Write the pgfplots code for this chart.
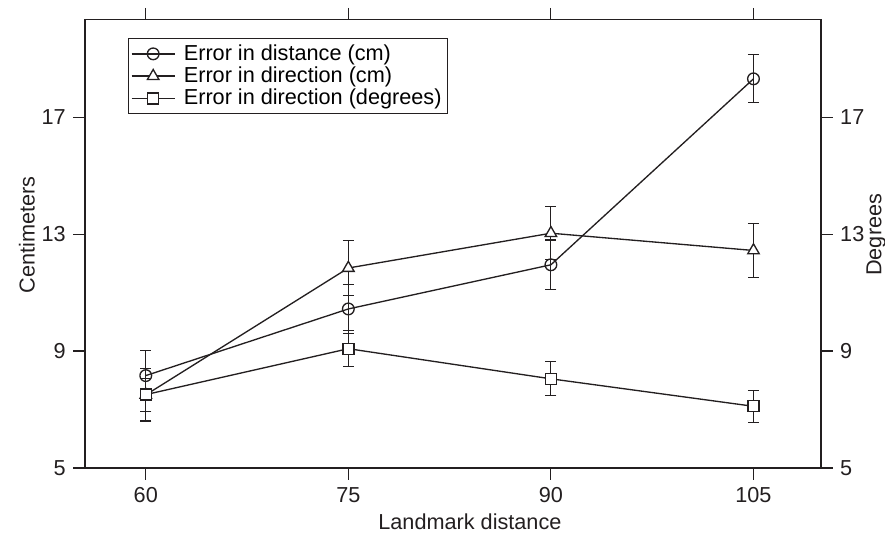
\documentclass[border=0pt]{standalone}
\usepackage{fontspec}
\setmainfont{Liberation Sans}
\usepackage{pgfplots}
\pgfplotsset{compat=1.18}
\definecolor{ink}{HTML}{231F20}
\pgfplotstableread{
x y e
60 8.16 0.86
75 10.44 0.84
90 11.95 0.85
105 18.31 0.82
}\distcm
\pgfplotstableread{
x y e
60 7.50 0.57
75 11.84 0.93
90 13.03 0.91
105 12.44 0.92
}\dircm
\pgfplotstableread{
x y e
60 7.51 0.90
75 9.08 0.61
90 8.05 0.58
105 7.11 0.55
}\dirdeg
\tikzset{
  ser/.style={ink,line width=0.8pt,mark options={fill=white,line width=0.8pt,solid}},
}
\begin{document}
\fontsize{13}{15}\selectfont
\begin{tikzpicture}
\path[use as bounding box] (-51pt,-42.6pt) rectangle (480pt,280.8pt);
\pgfplotsset{
  base/.style={
    at={(0,0)}, anchor=south west, scale only axis,
    width=441.6pt, height=269.1pt,
    xmin=55.5, xmax=110, ymin=5, ymax=20.34,
    ytick={5,9,13,17}, xtick={60,75,90,105},
    tick align=outside, major tick length=7pt,
    tick style={ink,line width=0.7pt},
    axis line style={ink,line width=0.8pt},
    tick label style={font=\fontsize{13}{15}\selectfont, text=ink},
    label style={font=\fontsize{13}{15}\selectfont, text=ink},
    /pgf/number format/assume math mode=true,
  },
}
\begin{axis}[base,
  xtick pos=both, ytick pos=left,
  xlabel={Landmark distance}, ylabel={Centimeters},
  xlabel style={at={(axis description cs:0.523,-0.12)},anchor=center},
  ylabel style={at={(axis description cs:-0.079,0.52)},anchor=center,rotate=0},
  legend style={at={(axis description cs:0.058,0.959)},anchor=north west,
    draw=ink,line width=0.8pt,font=\fontsize{13}{15}\selectfont,
    inner sep=1.5pt,row sep=-2pt,
    /tikz/every odd column/.append style={column sep=3pt}},
  legend cell align=left,
  legend image code/.code={\draw[mark repeat=2,mark phase=2,#1] plot coordinates {(0pt,0pt) (13pt,0pt) (26pt,0pt)};},
  error bars/error bar style={ink,line width=0.7pt},
  error bars/error mark options={rotate=90,mark size=3.3pt,line width=0.7pt,ink},
]
\addplot[ser,mark=o,mark size=3.5pt,error bars/.cd,y dir=both,y explicit]
  table[x=x,y=y,y error=e]{\distcm};
\addlegendentry{Error in distance (cm)}
\addplot[ser,mark=triangle*,mark size=4pt,error bars/.cd,y dir=both,y explicit]
  table[x=x,y=y,y error=e]{\dircm};
\addlegendentry{Error in direction (cm)}
\addplot[ser,mark=square*,mark size=3.3pt,error bars/.cd,y dir=both,y explicit]
  table[x=x,y=y,y error=e]{\dirdeg};
\addlegendentry{Error in direction (degrees)}
\end{axis}
\begin{axis}[base,
  axis x line=none, axis y line*=right, ytick pos=right,
  ylabel={Degrees},
  ylabel style={at={(axis description cs:1.075,0.52)},anchor=center,rotate=0},
]
\end{axis}
\end{tikzpicture}
\end{document}
